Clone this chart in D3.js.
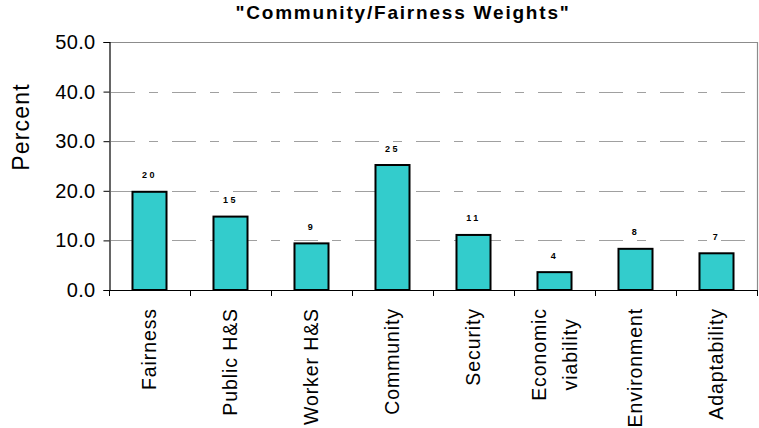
<!DOCTYPE html>
<html>
<head>
<meta charset="utf-8">
<script src="https://cdn.jsdelivr.net/npm/d3@7"></script>
<style>
  html, body { margin: 0; padding: 0; background: #fff; }
  svg { display: block; font-family: Arial, "Liberation Sans", sans-serif; }
</style>
</head>
<body>
<svg id="chart" width="759" height="428"></svg>
<script>
// ---- data ----
const title = "\"Community/Fairness Weights\"";
const yAxisTitle = "Percent";
const categories = ["Fairness", "Public H&S", "Worker H&S", "Community", "Security", "Economic\nviability", "Environment", "Adaptability"];
const values = [19.8, 14.8, 9.4, 25.2, 11.1, 3.6, 8.3, 7.4];
const yTicks = [0, 10, 20, 30, 40, 50];

(function () {
  // ---- layout ----
  const svg = d3.select("#chart");
  const mLeft = 109, mRight = 757, mTop = 42, mBottom = 290;

  const x = d3.scaleBand().domain(categories).range([mLeft, mRight]).paddingInner(0.58).paddingOuter(0.29);
  const xb = d3.scaleBand().domain(categories).range([mLeft, mRight]).padding(0);
  const y = d3.scaleLinear().domain([0, 50]).range([mBottom, mTop]);

  // gridlines
  svg.append("g").selectAll("line").data(yTicks.filter(t => t > 0 && t < 50)).join("line")
    .attr("x1", mLeft).attr("x2", mRight)
    .attr("y1", d => Math.round(y(d)) + 0.5).attr("y2", d => Math.round(y(d)) + 0.5)
    .attr("stroke", "#a0a0a0").attr("stroke-width", 1)
    .attr("stroke-dasharray", "24,14,9,14").attr("stroke-dashoffset", -2);

  // plot border (top + right)
  svg.append("path")
    .attr("d", `M${mLeft},${Math.round(y(50)) + 0.5}H${mRight + 0.5}V${mBottom}`)
    .attr("fill", "none").attr("stroke", "#8c8c8c").attr("stroke-width", 1.2);

  // bars
  svg.append("g").selectAll("rect").data(values).join("rect")
    .attr("x", (d, i) => x(categories[i]))
    .attr("y", d => y(d))
    .attr("width", x.bandwidth())
    .attr("height", d => y(0) - y(d))
    .attr("fill", "#33CCCC").attr("stroke", "#000").attr("stroke-width", 2);

  // value labels
  const fmt = d3.format(".0f");
  svg.append("g").selectAll("text").data(values).join("text")
    .attr("x", (d, i) => x(categories[i]) + x.bandwidth() / 2)
    .attr("y", d => y(d) - 13.5)
    .attr("text-anchor", "middle")
    .attr("font-size", 9).attr("font-weight", "bold").attr("letter-spacing", 2.6)
    .attr("fill", "#000")
    .text(d => fmt(d));

  // y axis
  const yAxis = d3.axisLeft(y).tickValues(yTicks).tickFormat(d3.format(".1f")).tickSize(6).tickPadding(8);
  const gy = svg.append("g").attr("transform", `translate(${mLeft + 0.5},0)`).call(yAxis);
  gy.select(".domain").attr("stroke", "#000").attr("stroke-width", 1.2);
  gy.selectAll(".tick line").attr("stroke", "#000");
  gy.selectAll(".tick text")
    .attr("font-size", 20).attr("letter-spacing", 0.3)
    .attr("font-family", "Arial, 'Liberation Sans', sans-serif")
    .attr("fill", "#000");

  // x axis (ticks at category boundaries)
  const bounds = categories.map(c => xb(c)).concat([mRight]);
  svg.append("line").attr("x1", mLeft).attr("x2", mRight + 1)
    .attr("y1", mBottom + 0.5).attr("y2", mBottom + 0.5)
    .attr("stroke", "#000").attr("stroke-width", 1.2);
  svg.append("g").selectAll("line").data(bounds).join("line")
    .attr("x1", d => Math.round(d) + 0.5).attr("x2", d => Math.round(d) + 0.5)
    .attr("y1", mBottom).attr("y2", mBottom + 6)
    .attr("stroke", "#000");

  // x labels (rotated), top aligned at labelTop
  const labelTop = 308;
  const lineGap = 31;
  const xl = svg.append("g");
  categories.forEach((c) => {
    const lines = c.split("\n");
    const cx = x(c) + x.bandwidth() / 2;
    const n = lines.length;
    const texts = lines.map((ln) => xl.append("text")
      .attr("font-size", 19.5).attr("letter-spacing", 0.9)
      .attr("fill", "#000")
      .attr("text-anchor", "middle")
      .text(ln));
    let maxLen = 0;
    texts.forEach(t => { maxLen = Math.max(maxLen, t.node().getComputedTextLength()); });
    texts.forEach((t, j) => {
      const bx = cx + 6.5 + (j - (n - 1) / 2) * lineGap;
      t.attr("transform", `translate(${bx},${labelTop + maxLen / 2}) rotate(-90)`);
    });
  });

  // y axis title
  svg.append("text")
    .attr("transform", `translate(28.5,127) rotate(-90)`)
    .attr("text-anchor", "middle")
    .attr("font-size", 23).attr("letter-spacing", 1.2)
    .attr("fill", "#000")
    .text(yAxisTitle);

  // chart title
  svg.append("text")
    .attr("x", 403).attr("y", 19)
    .attr("text-anchor", "middle")
    .attr("font-size", 19).attr("font-weight", "bold").attr("letter-spacing", 1.8)
    .attr("fill", "#000")
    .text(title);
})();
</script>
</body>
</html>
